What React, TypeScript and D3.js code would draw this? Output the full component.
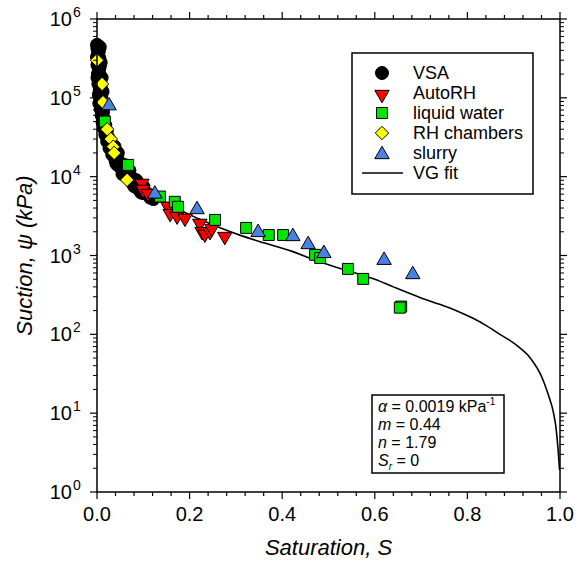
import React from "react";
import * as d3 from "d3";

// saturation S, suction psi (kPa)
const vsa: [number, number][] = [
  [0.0, 470000], [0.003, 450000], [0.001, 420000], [0.004, 390000], [0.002, 360000],
  [0.0, 330000], [0.005, 320000], [0.003, 290000], [0.001, 260000], [0.006, 250000],
  [0.004, 225000], [0.002, 200000], [0.007, 190000], [0.005, 170000], [0.003, 150000],
  [0.008, 140000], [0.006, 125000], [0.004, 110000], [0.009, 105000], [0.007, 95000],
  [0.005, 85000], [0.011, 80000], [0.008, 72000], [0.013, 66000], [0.01, 60000],
  [0.015, 54000], [0.012, 49000], [0.018, 45000], [0.015, 41000], [0.021, 38000],
  [0.018, 34000], [0.025, 31000], [0.022, 28000], [0.03, 26000], [0.027, 23000],
  [0.036, 21500], [0.033, 19000], [0.043, 18000], [0.04, 16000], [0.05, 15000],
  [0.048, 13500], [0.058, 12800], [0.057, 11500], [0.068, 11000], [0.066, 9800],
  [0.078, 9400], [0.076, 8400], [0.088, 8000], [0.087, 7200], [0.098, 6900],
  [0.1, 6200], [0.11, 6000], [0.115, 5400], [0.122, 5200],
  [0.006, 440000], [0.008, 280000], [0.01, 180000], [0.012, 120000], [0.001, 180000],
  [0.038, 24000], [0.045, 20000], [0.042, 14500], [0.06, 14000], [0.07, 12000],
  [0.055, 10800], [0.085, 9000], [0.08, 7600], [0.1, 7500], [0.095, 6300],
];
const autoRH: [number, number][] = [
  [0.097, 8600], [0.099, 7200], [0.11, 6400], [0.153, 4400], [0.158, 3560],
  [0.173, 3300], [0.19, 3100], [0.222, 2670], [0.227, 2100], [0.233, 1950],
  [0.244, 2100], [0.248, 2300], [0.276, 1820],
];
const liquidWater: [number, number][] = [
  [0.017, 50000], [0.067, 14100], [0.136, 5600], [0.168, 4800], [0.175, 4150],
  [0.255, 2830], [0.322, 2240], [0.371, 1820], [0.402, 1820], [0.471, 1020],
  [0.482, 930], [0.542, 676], [0.575, 505], [0.657, 225], [0.654, 218],
];
const rhChambers: [number, number][] = [
  [0.0, 300000], [0.011, 150000], [0.013, 88000], [0.022, 40000], [0.03, 30000],
  [0.035, 24000], [0.037, 20000], [0.065, 9100],
];
const slurry: [number, number][] = [
  [0.026, 83000], [0.125, 6300], [0.216, 4000], [0.348, 2050], [0.423, 1820],
  [0.456, 1440], [0.49, 1110], [0.62, 910], [0.682, 600],
];
const vgFit: [number, number][] = [
  [0.001, 500000], [0.004, 300000], [0.008, 170000], [0.013, 100000], [0.02, 60000],
  [0.03, 38000], [0.045, 22000], [0.065, 13500], [0.09, 8500], [0.12, 6000],
  [0.16, 4300], [0.2, 3300], [0.24, 2600], [0.27, 2200], [0.31, 1800],
  [0.36, 1450], [0.423, 1120], [0.475, 850], [0.546, 630], [0.6, 500],
  [0.64, 400], [0.7, 290], [0.74, 240], [0.78, 195], [0.81, 162],
  [0.84, 130], [0.87, 100], [0.89, 85], [0.91, 70], [0.93, 55],
  [0.945, 42], [0.957, 32], [0.966, 24], [0.975, 17], [0.983, 12],
  [0.99, 7.5], [0.994, 4.6], [0.997, 2.8], [0.999, 1.9],
];

const satTicks = [0, 0.2, 0.4, 0.6, 0.8, 1.0];
const suctionExps = [0, 1, 2, 3, 4, 5, 6];
const legendLabels = ["VSA", "AutoRH", "liquid water", "RH chambers", "slurry", "VG fit"];

const FONT = "'Liberation Sans', Arial, Helvetica, sans-serif";
const W = 576, H = 567;
const L = 97, R = 560, T = 19, B = 492;

const x = d3.scaleLinear().domain([0, 1]).range([L, R]);
const y = d3.scaleLog().domain([1, 1e6]).range([B, T]);

const triPath = d3.symbol().type(d3.symbolTriangle).size(90)() as string;
const sqPath = d3.symbol().type(d3.symbolSquare).size(120)() as string;
const diamondPath = d3.symbol().type(d3.symbolDiamond2).size(115)() as string;

function Marker({ kind, cx, cy }: { kind: string; cx: number; cy: number }) {
  const t = `translate(${cx},${cy})`;
  if (kind === "VSA") return <circle cx={cx} cy={cy} r={6.5} fill="#000" stroke="#000" />;
  if (kind === "AutoRH")
    return <path d={triPath} transform={`${t} rotate(180) translate(0,-1.5)`} fill="#ff0000" stroke="#000" strokeWidth={1} />;
  if (kind === "liquid water") return <path d={sqPath} transform={t} fill="#00e600" stroke="#000" strokeWidth={1} />;
  if (kind === "RH chambers") return <path d={diamondPath} transform={t} fill="#ffff00" stroke="#000" strokeWidth={1} />;
  return <path d={triPath} transform={`${t} translate(0,1.5)`} fill="#4a82e4" stroke="#000" strokeWidth={1} />;
}

export default function App() {
  const line = d3
    .line<[number, number]>()
    .x((d) => x(d[0]))
    .y((d) => y(d[1]))
    .curve(d3.curveCatmullRom.alpha(0.5));

  const minorX = d3.range(0, 1.0001, 0.04);
  const minorY: number[] = [];
  for (let e = 0; e < 6; e++) for (let k = 2; k <= 9; k++) minorY.push(k * Math.pow(10, e));

  const series: [string, [number, number][]][] = [
    ["VSA", vsa],
    ["AutoRH", autoRH],
    ["liquid water", liquidWater],
    ["RH chambers", rhChambers],
    ["slurry", slurry],
  ];

  return (
    <svg width={W} height={H} style={{ position: "absolute", left: 0, top: 0, background: "#fff" }} fontFamily={FONT}>
      <defs>
        <clipPath id="plot">
          <rect x={L - 8} y={T - 2} width={R - L + 10} height={B - T + 2} />
        </clipPath>
      </defs>

      {/* fit line under markers */}
      <path d={line(vgFit) as string} fill="none" stroke="#000" strokeWidth={1.6} />

      <g clipPath="url(#plot)">
        {series.map(([name, data]) =>
          data.map((d, i) => <Marker key={name + i} kind={name} cx={x(d[0])} cy={y(d[1])} />)
        )}
      </g>

      {/* frame */}
      <rect x={L} y={T} width={R - L} height={B - T} fill="none" stroke="#000" strokeWidth={1.5} />

      {/* x ticks bottom/top */}
      {minorX.map((v, i) => {
        const major = i % 5 === 0;
        const len = major ? 7 : 4;
        return (
          <g key={"xt" + i} stroke="#000" strokeWidth={1.2}>
            <line x1={x(v)} x2={x(v)} y1={B} y2={B + len} />
            <line x1={x(v)} x2={x(v)} y1={T} y2={T - len} />
          </g>
        );
      })}
      {satTicks.map((v) => (
        <text key={"xl" + v} x={x(v)} y={B + 29} textAnchor="middle" fontSize={20}>
          {v.toFixed(1)}
        </text>
      ))}

      {/* y ticks left/right */}
      {suctionExps.map((e) => (
        <g key={"ym" + e} stroke="#000" strokeWidth={1.2}>
          <line x1={L - 7} x2={L} y1={y(Math.pow(10, e))} y2={y(Math.pow(10, e))} />
          <line x1={R} x2={R + 7} y1={y(Math.pow(10, e))} y2={y(Math.pow(10, e))} />
        </g>
      ))}
      {minorY.map((v, i) => (
        <g key={"yn" + i} stroke="#000" strokeWidth={1}>
          <line x1={L - 4} x2={L} y1={y(v)} y2={y(v)} />
          <line x1={R} x2={R + 4} y1={y(v)} y2={y(v)} />
        </g>
      ))}
      {suctionExps.map((e) => (
        <text key={"yl" + e} x={72} y={y(Math.pow(10, e)) + 7} textAnchor="end" fontSize={20}>
          10
          <tspan x={73} dy={-9} fontSize={14} textAnchor="start">
            {e}
          </tspan>
        </text>
      ))}

      {/* axis titles */}
      <text x={(L + R) / 2} y={555} textAnchor="middle" fontSize={22} fontStyle="italic">
        Saturation, S
      </text>
      <text transform={`translate(32,${(T + B) / 2}) rotate(-90)`} textAnchor="middle" fontSize={22} fontStyle="italic">
        Suction, ψ (kPa)
      </text>

      {/* legend */}
      <g>
        <rect x={352} y={53} width={181} height={141} fill="#fff" stroke="#000" strokeWidth={1.5} />
        {legendLabels.map((lab, i) => {
          const ly = 73 + i * 20;
          return (
            <g key={lab}>
              {lab === "VG fit" ? (
                <line x1={362} x2={403} y1={ly} y2={ly} stroke="#000" strokeWidth={1.6} />
              ) : (
                <Marker kind={lab} cx={382} cy={ly} />
              )}
              <text x={413} y={ly + 6} fontSize={18}>
                {lab}
              </text>
            </g>
          );
        })}
      </g>

      {/* fit parameters */}
      <g fontSize={16}>
        <rect x={372} y={395} width={132} height={78} fill="#fff" stroke="#000" strokeWidth={1.5} />
        <text x={378} y={412}>
          <tspan fontStyle="italic">α</tspan> = 0.0019 kPa
          <tspan dy={-7} fontSize={10}>-1</tspan>
        </text>
        <text x={378} y={430}>
          <tspan fontStyle="italic">m</tspan> = 0.44
        </text>
        <text x={378} y={448}>
          <tspan fontStyle="italic">n</tspan> = 1.79
        </text>
        <text x={378} y={466}>
          <tspan fontStyle="italic">S</tspan>
          <tspan fontStyle="italic" fontSize={10} dy={4}>r</tspan>
          <tspan dy={-4}> = 0</tspan>
        </text>
      </g>
    </svg>
  );
}
